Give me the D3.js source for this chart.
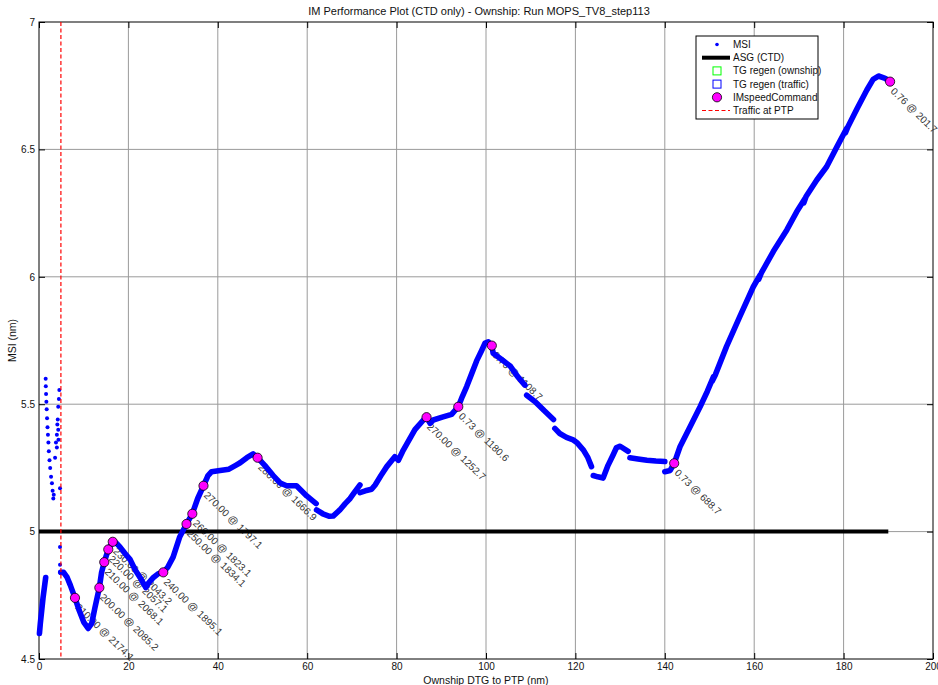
<!DOCTYPE html>
<html>
<head>
<meta charset="utf-8">
<script src="https://cdn.jsdelivr.net/npm/d3@7"></script>
<style>
  body { margin: 0; background: #fff; }
  text { font-family: 'Liberation Sans Narrow', 'Liberation Sans', Arial, sans-serif; fill: #111; }
</style>
</head>
<body>
<div class="imChart"></div>
<script>
// MSI track (DTG nm, MSI nm), split where the dots break off
const msiStart = [[0.1, 4.60], [0.3, 4.64], [0.6, 4.69], [0.9, 4.74], [1.2, 4.78], [1.5, 4.82]];
const msiScatter = [
  [1.49, 5.60], [1.52, 5.57], [1.58, 5.54], [1.65, 5.51], [1.72, 5.48], [1.8, 5.445], [1.9, 5.41],
  [2.0, 5.38], [2.1, 5.35], [2.2, 5.315], [2.35, 5.28], [2.5, 5.25], [2.7, 5.215], [2.9, 5.19],
  [3.05, 5.16], [3.2, 5.13], [3.3, 5.145],
  [4.55, 5.556], [4.45, 5.52], [4.3, 5.49], [4.2, 5.44], [4.1, 5.42], [4.3, 5.40], [4.0, 5.38],
  [4.35, 5.36], [3.8, 5.35], [4.0, 5.33], [3.6, 5.29], [4.7, 5.17], [4.7, 4.94], [4.7, 4.87]
];
const msiTrack1 = [
  [4.85, 4.84], [5.5, 4.84], [6.3, 4.82], [7.0, 4.79], [8.05, 4.74], [9.0, 4.69], [10.0, 4.645],
  [11.0, 4.62], [11.8, 4.64], [12.5, 4.70], [13.5, 4.78], [14.0, 4.84], [14.6, 4.88], [15.5, 4.93],
  [16.5, 4.96], [17.3, 4.955], [18.1, 4.94], [19.2, 4.915], [20.4, 4.89], [21.5, 4.85], [22.6, 4.82],
  [23.9, 4.78], [24.6, 4.80], [25.6, 4.82], [26.7, 4.835], [27.8, 4.84], [28.8, 4.86], [30.0, 4.90],
  [31.5, 4.98], [33.0, 5.03], [34.3, 5.07], [35.5, 5.13], [36.8, 5.18], [37.8, 5.22], [38.6, 5.235],
  [40.5, 5.24], [42.5, 5.245], [44.0, 5.26], [45.0, 5.27], [46.5, 5.29], [47.9, 5.305], [48.9, 5.29],
  [50.5, 5.26], [52.4, 5.22], [54.0, 5.19], [55.4, 5.18], [57.6, 5.18], [59.9, 5.14], [62.0, 5.11]
];
const msiTrack2 = [
  [62.1, 5.085], [63.5, 5.07], [65.0, 5.06], [65.8, 5.061], [67.3, 5.085], [68.5, 5.11], [69.6, 5.13],
  [70.8, 5.16], [71.8, 5.183]
];
const msiTrack3 = [
  [71.8, 5.153], [73.0, 5.16], [74.4, 5.166], [75.2, 5.183], [76.5, 5.22], [77.8, 5.255], [79.6, 5.294],
  [80.4, 5.28], [81.5, 5.32], [82.8, 5.36], [84.1, 5.40], [86.0, 5.438], [86.7, 5.449], [87.5, 5.425],
  [88.2, 5.438], [90.4, 5.45], [92.3, 5.46], [93.8, 5.49], [94.7, 5.53], [95.7, 5.57], [96.8, 5.62],
  [97.9, 5.67], [99.0, 5.71], [99.8, 5.74], [100.5, 5.745], [101.3, 5.73], [101.6, 5.70], [103.5, 5.675],
  [105.4, 5.65], [107.0, 5.61], [108.7, 5.575]
];
const msiTrack4 = [[109.1, 5.535], [111.0, 5.51], [113.0, 5.475], [115.1, 5.44]];
const msiTrack5 = [
  [115.4, 5.405], [116.5, 5.385], [118.0, 5.37], [119.5, 5.36], [120.3, 5.35], [121.8, 5.32],
  [122.8, 5.29], [123.6, 5.255]
];
const msiTrack6 = [
  [124.0, 5.22], [125.0, 5.215], [126.2, 5.21], [127.3, 5.26], [128.4, 5.30], [129.2, 5.33],
  [130.0, 5.335], [131.8, 5.315]
];
const msiTrack7 = [[132.2, 5.29], [134.0, 5.285], [136.0, 5.28], [138.0, 5.277], [140.0, 5.275]];
const msiTrack8 = [
  [140.0, 5.235], [141.2, 5.24], [142.1, 5.268], [143.4, 5.333], [145.6, 5.41], [147.9, 5.49],
  [149.5, 5.55], [150.9, 5.608], [150.6, 5.59], [151.3, 5.615], [153.8, 5.726], [156.8, 5.845],
  [159.8, 5.961], [161.3, 6.007], [161.0, 5.99], [161.6, 6.015], [164.3, 6.10], [167.3, 6.184],
  [169.5, 6.255], [171.4, 6.308], [171.1, 6.29], [171.6, 6.315], [174.0, 6.38], [176.2, 6.432],
  [178.5, 6.51], [180.7, 6.583], [180.4, 6.565], [181.0, 6.59], [183.0, 6.66], [185.2, 6.733],
  [186.6, 6.775], [187.8, 6.788], [189.3, 6.779], [190.4, 6.766]
];

// IM speed commands
const cmdDtg = [8.05, 13.5, 14.6, 15.5, 16.5, 27.8, 33.0, 34.3, 36.8, 48.9, 86.7, 93.8, 101.3, 142.1, 190.4];
const cmdMsi = [4.74, 4.78, 4.88, 4.93, 4.96, 4.84, 5.03, 5.07, 5.18, 5.29, 5.449, 5.49, 5.73, 5.268, 6.766];
const cmdLabels = [
  "210.00 @ 2174.1", "200.00 @ 2085.2", "210.00 @ 2068.1", "220.00 @ 2057.1", "230.00 @ 2043.2",
  "240.00 @ 1895.1", "250.00 @ 1834.1", "260.00 @ 1823.1", "270.00 @ 1797.1", "280.00 @ 1666.9",
  "270.00 @ 1252.7", "0.73 @ 1180.6", "0.76 @ 1108.7", "0.73 @ 688.7", "0.76 @ 201.7"
];

const asgMsi = 5;
const asgRange = [0, 190];
const trafficAtPtp = 4.9;

const xTicks = [0, 20, 40, 60, 80, 100, 120, 140, 160, 180, 200];
const yTicks = [4.5, 5, 5.5, 6, 6.5, 7];
const legendLabels = ["MSI", "ASG (CTD)", "TG regen (ownship)", "TG regen (traffic)", "IMspeedCommand", "Traffic at PTP"];

const margin = { top: 22, right: 5, bottom: 26, left: 39 };
const width = 938 - margin.left - margin.right;
const height = 685 - margin.top - margin.bottom;

const root = d3.select(".imChart")
  .append("svg")
  .attr("width", 938)
  .attr("height", 685);

const svg = root.append("g")
  .attr("transform", `translate(${margin.left},${margin.top})`);

const x = d3.scaleLinear().domain([0, 200]).range([0, width]);
const y = d3.scaleLinear().domain([4.5, 7]).range([height, 0]);

// grid
svg.append("g")
  .selectAll("line")
  .data(xTicks.slice(1, -1))
  .enter().append("line")
  .attr("x1", d => x(d)).attr("x2", d => x(d))
  .attr("y1", 0).attr("y2", height)
  .attr("stroke", "#9a9a9a").attr("stroke-width", 1);
svg.append("g")
  .selectAll("line")
  .data(yTicks.slice(1, -1))
  .enter().append("line")
  .attr("x1", 0).attr("x2", width)
  .attr("y1", d => y(d)).attr("y2", d => y(d))
  .attr("stroke", "#9a9a9a").attr("stroke-width", 1);

// axes (inward ticks, box on)
const tickLen = 6;
svg.append("g")
  .attr("transform", `translate(0,${height})`)
  .call(d3.axisBottom(x).tickValues(xTicks).tickSize(-tickLen).tickPadding(4))
  .call(g => g.select(".domain").remove())
  .selectAll("text").style("font-size", "10px");
svg.append("g")
  .call(d3.axisTop(x).tickValues(xTicks).tickSize(-tickLen).tickFormat(""))
  .call(g => g.select(".domain").remove());
svg.append("g")
  .call(d3.axisLeft(y).tickValues(yTicks).tickSize(-tickLen).tickPadding(4).tickFormat(d3.format("")))
  .call(g => g.select(".domain").remove())
  .selectAll("text").style("font-size", "10px");
svg.append("g")
  .attr("transform", `translate(${width},0)`)
  .call(d3.axisRight(y).tickValues(yTicks).tickSize(-tickLen).tickFormat(""))
  .call(g => g.select(".domain").remove());
svg.append("rect")
  .attr("width", width).attr("height", height)
  .attr("fill", "none").attr("stroke", "#000").attr("stroke-width", 1);

// command labels (under the track)
svg.append("g")
  .selectAll("text")
  .data(cmdLabels)
  .enter().append("text")
  .attr("transform", (d, i) => `translate(${x(cmdDtg[i])},${y(cmdMsi[i])})rotate(44)`)
  .attr("dx", 7)
  .attr("dy", "0.75em")
  .style("font-size", "10px")
  .style("fill", "#333")
  .text(d => d);

// ASG line
svg.append("line")
  .attr("x1", x(asgRange[0])).attr("x2", x(asgRange[1]))
  .attr("y1", y(asgMsi)).attr("y2", y(asgMsi))
  .attr("stroke", "#000").attr("stroke-width", 4);

// MSI track
const line = d3.line().x(d => x(d[0])).y(d => y(d[1]));
const tracks = [msiStart, msiTrack1, msiTrack2, msiTrack3, msiTrack4, msiTrack5, msiTrack6, msiTrack7, msiTrack8];
svg.append("g")
  .selectAll("path")
  .data(tracks)
  .enter().append("path")
  .attr("d", line)
  .attr("fill", "none")
  .attr("stroke", "#0000ff")
  .attr("stroke-width", 5.6)
  .attr("stroke-linecap", "round")
  .attr("stroke-linejoin", "round");
svg.append("g")
  .selectAll("circle")
  .data(msiScatter)
  .enter().append("circle")
  .attr("cx", d => x(d[0]))
  .attr("cy", d => y(d[1]))
  .attr("r", 2)
  .attr("fill", "#0000ff");

// traffic at PTP
svg.append("line")
  .attr("x1", x(trafficAtPtp)).attr("x2", x(trafficAtPtp))
  .attr("y1", 0).attr("y2", height)
  .attr("stroke", "#ff0000").attr("stroke-width", 1.2)
  .attr("stroke-dasharray", "4,2.5");

// speed command markers
svg.append("g")
  .selectAll("circle")
  .data(cmdDtg)
  .enter().append("circle")
  .attr("cx", d => x(d))
  .attr("cy", (d, i) => y(cmdMsi[i]))
  .attr("r", 4.6)
  .attr("fill", "#ff00ff")
  .attr("stroke", "#000")
  .attr("stroke-width", 0.8);

// titles
root.append("text")
  .attr("x", margin.left + width / 2 - 7)
  .attr("y", 15)
  .attr("text-anchor", "middle")
  .style("font-size", "11px")
  .text("IM Performance Plot (CTD only) - Ownship: Run MOPS_TV8_step113");
root.append("text")
  .attr("x", margin.left + width / 2)
  .attr("y", 684)
  .attr("text-anchor", "middle")
  .style("font-size", "10.5px")
  .text("Ownship DTG to PTP (nm)");
root.append("text")
  .attr("transform", `translate(16,${margin.top + height / 2})rotate(-90)`)
  .attr("text-anchor", "middle")
  .style("font-size", "10.5px")
  .text("MSI (nm)");

// legend
const lg = root.append("g").attr("transform", "translate(696,36)");
lg.append("rect")
  .attr("width", 122).attr("height", 83)
  .attr("fill", "#fff").attr("stroke", "#000").attr("stroke-width", 1);
const rowY = i => 8.5 + i * 13.2;
lg.selectAll("text")
  .data(legendLabels)
  .enter().append("text")
  .attr("x", 37)
  .attr("y", (d, i) => rowY(i))
  .attr("dy", "0.35em")
  .style("font-size", "10px")
  .text(d => d);
lg.append("circle").attr("cx", 21).attr("cy", rowY(0)).attr("r", 1.8).attr("fill", "#0000ff");
lg.append("line").attr("x1", 6).attr("x2", 34).attr("y1", rowY(1)).attr("y2", rowY(1))
  .attr("stroke", "#000").attr("stroke-width", 4);
lg.append("rect").attr("x", 17).attr("y", rowY(2) - 4).attr("width", 8).attr("height", 8)
  .attr("fill", "none").attr("stroke", "#00ff00").attr("stroke-width", 1);
lg.append("rect").attr("x", 17).attr("y", rowY(3) - 4).attr("width", 8).attr("height", 8)
  .attr("fill", "none").attr("stroke", "#0000ff").attr("stroke-width", 1);
lg.append("circle").attr("cx", 21).attr("cy", rowY(4)).attr("r", 4.6)
  .attr("fill", "#ff00ff").attr("stroke", "#000").attr("stroke-width", 0.8);
lg.append("line").attr("x1", 6).attr("x2", 34).attr("y1", rowY(5)).attr("y2", rowY(5))
  .attr("stroke", "#ff0000").attr("stroke-width", 1.2).attr("stroke-dasharray", "4,2.5");
</script>
</body>
</html>
